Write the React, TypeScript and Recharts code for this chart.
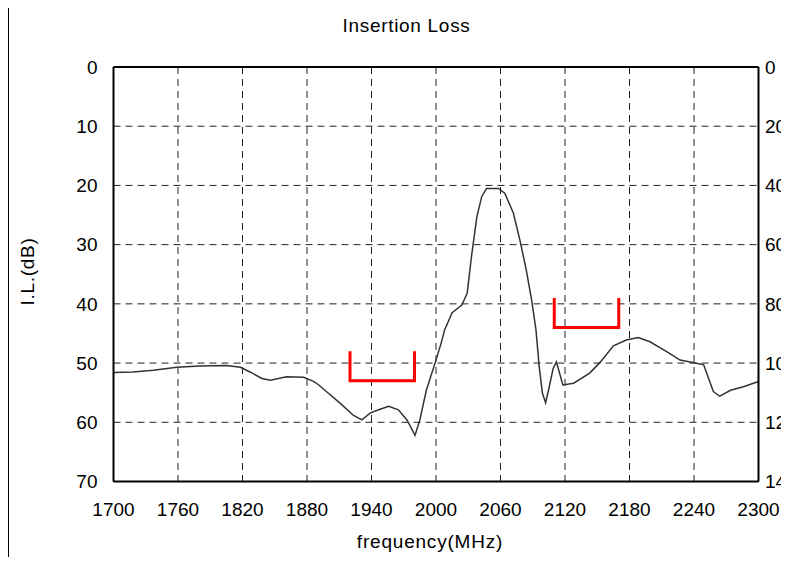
import React from "react"
import {
  LineChart,
  Line,
  XAxis,
  YAxis,
  CartesianGrid,
  ReferenceLine,
} from "recharts"

// frequency (MHz) and insertion loss (dB)
const freqs = [
  1700, 1718, 1737, 1759, 1780, 1805, 1818, 1827, 1838, 1846, 1861, 1877, 1886,
  1891, 1898, 1911, 1923, 1931, 1939, 1948, 1956, 1965, 1973, 1980.5, 1985,
  1991, 2000, 2005, 2008, 2015, 2024, 2029, 2033, 2038, 2042.5, 2047, 2058,
  2064, 2072, 2078, 2084, 2089, 2093, 2096, 2099, 2102, 2105, 2109, 2112, 2118,
  2128, 2143, 2153, 2165, 2177, 2188, 2199, 2215, 2227, 2239, 2249, 2253, 2258,
  2264, 2274, 2286, 2300,
]
const loss = [
  51.6, 51.5, 51.2, 50.7, 50.5, 50.4, 50.7, 51.5, 52.6, 52.9, 52.3, 52.4, 53.1,
  53.7, 54.8, 56.8, 58.8, 59.6, 58.4, 57.8, 57.3, 57.9, 59.6, 62.2, 59.6, 54.6,
  49.5, 46.5, 44.4, 41.5, 40.2, 38.2, 32.0, 25.3, 21.9, 20.5, 20.5, 21.3, 24.7,
  29.2, 34.3, 39.4, 44.4, 50.6, 55.1, 56.7, 54.3, 50.9, 49.8, 53.7, 53.4, 51.7,
  49.8, 47.1, 46.1, 45.7, 46.4, 48.1, 49.5, 49.9, 50.3, 52.3, 54.8, 55.6, 54.6,
  54.0, 53.1,
]

// red spec brackets
const lowMaskF = [1920, 1920, 1980, 1980]
const lowMaskDb = [48, 53, 53, 48]
const highMaskF = [2110, 2110, 2170, 2170]
const highMaskDb = [39, 44, 44, 39]

const xTicks = [1700, 1760, 1820, 1880, 1940, 2000, 2060, 2120, 2180, 2240, 2300]
const yTicks = [0, 10, 20, 30, 40, 50, 60, 70]
const rightTicks = [0, 20, 40, 60, 80, 100, 120, 140]

const trace = freqs.map((f, i) => ({ f, il: loss[i] }))
const lowMask = lowMaskF.map((f, i) => ({ f, il: lowMaskDb[i] }))
const highMask = highMaskF.map((f, i) => ({ f, il: highMaskDb[i] }))

const FONT = "'Liberation Sans', Arial, sans-serif"
const tickStyle = { fill: "#000", fontSize: 19, fontFamily: FONT }

export default function App() {
  return (
    <div
      style={{
        position: "relative",
        width: 789,
        height: 565,
        margin: -8,
        overflow: "hidden",
        background: "#fff",
      }}
    >
      <div
        style={{
          position: "absolute",
          left: 7,
          top: 5,
          width: 900,
          height: 700,
          border: "2px solid #000",
        }}
      />
      <div style={{ position: "absolute", left: 0, top: 0 }}>
        <LineChart
          width={789}
          height={565}
          data={trace}
          margin={{ top: 67, right: 0, left: 53.5, bottom: 43.5 }}
        >
          <CartesianGrid stroke="#222" strokeDasharray="7 5" yAxisId="left" />
          <XAxis
            dataKey="f"
            type="number"
            domain={[1700, 2300]}
            ticks={xTicks}
            height={40}
            tickSize={0}
            tickMargin={21}
            tick={tickStyle}
            axisLine={{ stroke: "#000", strokeWidth: 2 }}
            tickLine={false}
            allowDataOverflow
          />
          <YAxis
            yAxisId="left"
            type="number"
            domain={[0, 70]}
            reversed
            ticks={yTicks}
            width={60}
            tickSize={0}
            tickMargin={16}
            tick={tickStyle}
            axisLine={{ stroke: "#000", strokeWidth: 2 }}
            tickLine={false}
            allowDataOverflow
          />
          <YAxis
            yAxisId="right"
            orientation="right"
            type="number"
            domain={[0, 140]}
            reversed
            ticks={rightTicks}
            interval={0}
            width={30.5}
            tickSize={0}
            tickMargin={6.5}
            tick={{ ...tickStyle, textAnchor: "start" }}
            axisLine={{ stroke: "#000", strokeWidth: 2 }}
            tickLine={false}
            allowDataOverflow
          />
          <ReferenceLine yAxisId="left" y={0} stroke="#000" strokeWidth={2} />
          <Line
            yAxisId="left"
            dataKey="il"
            type="linear"
            stroke="#333"
            strokeWidth={1.5}
            dot={false}
            isAnimationActive={false}
          />
          <Line
            yAxisId="left"
            data={lowMask}
            dataKey="il"
            type="linear"
            stroke="#ff0000"
            strokeWidth={3}
            strokeLinejoin="miter"
            dot={false}
            isAnimationActive={false}
          />
          <Line
            yAxisId="left"
            data={highMask}
            dataKey="il"
            type="linear"
            stroke="#ff0000"
            strokeWidth={3}
            strokeLinejoin="miter"
            dot={false}
            isAnimationActive={false}
          />
        </LineChart>
      </div>
      <svg
        width={789}
        height={565}
        style={{ position: "absolute", left: 0, top: 0, pointerEvents: "none" }}
      >
        <text
          x={406.5}
          y={32}
          textAnchor="middle"
          fontSize={19}
          letterSpacing={0.7}
          fontFamily={FONT}
          fill="#000"
        >
          Insertion Loss
        </text>
        <text
          x={430}
          y={548}
          textAnchor="middle"
          fontSize={19}
          letterSpacing={0.8}
          fontFamily={FONT}
          fill="#000"
        >
          frequency(MHz)
        </text>
        <text
          x={34}
          y={271.5}
          transform="rotate(-90, 34, 271.5)"
          textAnchor="middle"
          fontSize={19}
          letterSpacing={0.7}
          fontFamily={FONT}
          fill="#000"
        >
          I.L.(dB)
        </text>
      </svg>
    </div>
  )
}
